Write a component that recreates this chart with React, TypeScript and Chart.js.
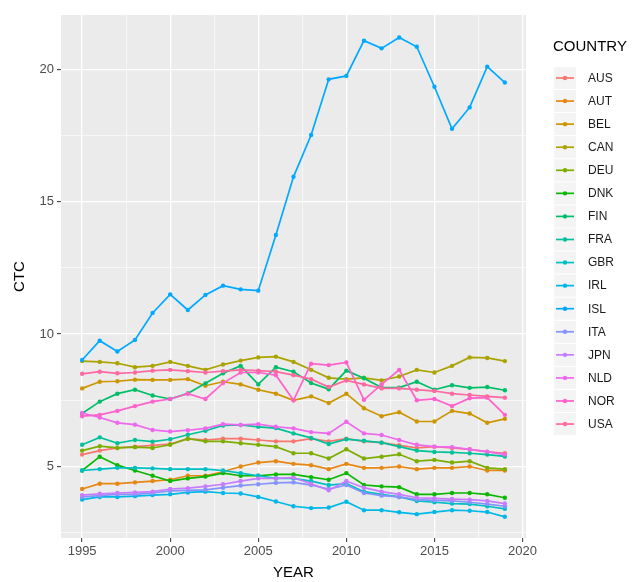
import React, { useEffect, useRef } from "react";
import { Chart, registerables } from "chart.js";

Chart.register(...registerables);

const YEARS = [1995, 1996, 1997, 1998, 1999, 2000, 2001, 2002, 2003, 2004, 2005, 2006, 2007, 2008, 2009, 2010, 2011, 2012, 2013, 2014, 2015, 2016, 2017, 2018, 2019];

const COUNTRIES = ["AUS", "AUT", "BEL", "CAN", "DEU", "DNK", "FIN", "FRA", "GBR", "IRL", "ISL", "ITA", "JPN", "NLD", "NOR", "USA"];

const COLORS = ["#F8766D", "#E68613", "#CD9600", "#ABA300", "#7CAE00", "#0CB702", "#00BE67", "#00C19A", "#00BFC4", "#00B8E7", "#00A9FF", "#8494FF", "#C77CFF", "#ED68ED", "#FF61CC", "#FF68A1"];

const AUS = [5.45, 5.6, 5.7, 5.75, 5.8, 5.85, 6.05, 6.0, 6.05, 6.05, 6.0, 5.95, 5.95, 6.05, 5.95, 6.05, 5.95, 5.9, 5.8, 5.7, 5.75, 5.7, 5.65, 5.55, 5.5];
const AUT = [4.15, 4.35, 4.35, 4.4, 4.45, 4.5, 4.65, 4.65, 4.8, 5.0, 5.15, 5.2, 5.1, 5.05, 4.9, 5.1, 4.95, 4.95, 5.0, 4.9, 4.95, 4.95, 5.0, 4.85, 4.85];
const BEL = [7.95, 8.2, 8.22, 8.28, 8.27, 8.27, 8.3, 8.05, 8.2, 8.1, 7.9, 7.75, 7.5, 7.65, 7.4, 7.75, 7.2, 6.9, 7.05, 6.7, 6.7, 7.1, 7.0, 6.65, 6.8];
const CAN = [8.98, 8.95, 8.9, 8.75, 8.8, 8.95, 8.8, 8.65, 8.85, 9.0, 9.12, 9.15, 8.95, 8.65, 8.35, 8.3, 8.35, 8.25, 8.4, 8.65, 8.55, 8.8, 9.12, 9.1, 8.98];
const DEU = [5.6, 5.77, 5.7, 5.73, 5.7, 5.82, 6.05, 5.95, 5.95, 5.88, 5.82, 5.75, 5.5, 5.5, 5.3, 5.65, 5.3, 5.37, 5.46, 5.2, 5.25, 5.15, 5.2, 4.95, 4.9];
const DNK = [4.85, 5.37, 5.05, 4.85, 4.65, 4.45, 4.55, 4.62, 4.75, 4.65, 4.65, 4.7, 4.7, 4.6, 4.5, 4.75, 4.3, 4.25, 4.22, 3.95, 3.95, 4.0, 4.0, 3.95, 3.82];
const FIN = [7.0, 7.45, 7.75, 7.9, 7.68, 7.55, 7.76, 8.14, 8.52, 8.8, 8.1, 8.75, 8.58, 8.15, 7.92, 8.62, 8.33, 7.98, 7.98, 8.2, 7.9, 8.07, 7.97, 8.0, 7.88];
const FRA = [5.82, 6.1, 5.88, 6.0, 5.94, 6.03, 6.2, 6.35, 6.55, 6.57, 6.5, 6.45, 6.25, 6.08, 5.85, 6.03, 5.97, 5.9, 5.75, 5.6, 5.55, 5.53, 5.5, 5.45, 5.38];
const GBR = [4.85, 4.9, 4.95, 4.95, 4.93, 4.9, 4.9, 4.9, 4.85, 4.75, 4.65, 4.55, 4.55, 4.45, 4.3, 4.35, 4.05, 3.95, 3.85, 3.7, 3.65, 3.6, 3.58, 3.5, 3.4];
const IRL = [3.75, 3.85, 3.85, 3.88, 3.92, 3.95, 4.02, 4.05, 4.0, 3.98, 3.85, 3.68, 3.5, 3.43, 3.45, 3.67, 3.35, 3.35, 3.27, 3.2, 3.28, 3.35, 3.33, 3.28, 3.1];
const ISL = [9.02, 9.75, 9.34, 9.78, 10.8, 11.5, 10.91, 11.48, 11.83, 11.69, 11.64, 13.74, 15.94, 17.52, 19.62, 19.75, 21.08, 20.79, 21.2, 20.85, 19.34, 17.75, 18.56, 20.1, 19.5];
const ITA = [3.85, 3.9, 3.95, 3.95, 4.0, 4.08, 4.1, 4.12, 4.2, 4.28, 4.33, 4.38, 4.4, 4.3, 4.15, 4.3, 4.0, 3.9, 3.85, 3.75, 3.72, 3.7, 3.65, 3.58, 3.5];
const JPN = [3.92, 3.97, 4.0, 4.02, 4.05, 4.15, 4.18, 4.25, 4.33, 4.45, 4.55, 4.55, 4.58, 4.35, 4.1, 4.45, 4.2, 4.05, 3.95, 3.82, 3.8, 3.77, 3.75, 3.7, 3.6];
const NLD = [7.02, 6.85, 6.65, 6.58, 6.38, 6.32, 6.37, 6.44, 6.6, 6.57, 6.6, 6.5, 6.44, 6.3, 6.25, 6.69, 6.25, 6.19, 6.0, 5.82, 5.75, 5.73, 5.65, 5.56, 5.45];
const NOR = [6.9, 6.95, 7.1, 7.28, 7.45, 7.55, 7.75, 7.55, 8.15, 8.55, 8.55, 8.45, 7.5, 8.88, 8.83, 8.93, 7.52, 8.1, 8.65, 7.5, 7.55, 7.28, 7.58, 7.6, 6.95];
const USA = [8.5, 8.58, 8.52, 8.55, 8.62, 8.65, 8.6, 8.55, 8.6, 8.65, 8.62, 8.58, 8.45, 8.3, 8.0, 8.25, 8.1, 7.95, 7.95, 7.9, 7.85, 7.75, 7.7, 7.65, 7.6];

const SERIES = [AUS, AUT, BEL, CAN, DEU, DNK, FIN, FRA, GBR, IRL, ISL, ITA, JPN, NLD, NOR, USA];

const X_MAJOR = [1995, 2000, 2005, 2010, 2015, 2020];
const X_MINOR = [1997.5, 2002.5, 2007.5, 2012.5, 2017.5];
const Y_MAJOR = [5, 10, 15, 20];
const Y_MINOR = [2.5, 7.5, 12.5, 17.5];

const FONT = "'Liberation Sans', Arial, Helvetica, sans-serif";

const isMajor = (v: number) => Math.abs(v % 5) < 1e-9;

const panelBg = {
  id: "panelBg",
  beforeDraw(chart: any) {
    const { ctx, chartArea } = chart;
    ctx.save();
    ctx.fillStyle = "#EBEBEB";
    ctx.fillRect(chartArea.left, chartArea.top, chartArea.right - chartArea.left, chartArea.bottom - chartArea.top);
    ctx.restore();
  },
};

const ggLegend = {
  id: "ggLegend",
  afterDraw(chart: any) {
    const { ctx } = chart;
    ctx.save();
    ctx.fillStyle = "#000000";
    ctx.font = `15px ${FONT}`;
    ctx.textAlign = "left";
    ctx.textBaseline = "middle";
    ctx.fillText("COUNTRY", 553, 47);
    const step = 23.07;
    COUNTRIES.forEach((name, i) => {
      const yc = 78 + step * i;
      ctx.fillStyle = "#F4F4F4";
      ctx.fillRect(554, yc - 11, 22, 22);
      ctx.strokeStyle = COLORS[i];
      ctx.lineWidth = 1.7;
      ctx.beginPath();
      ctx.moveTo(556, yc);
      ctx.lineTo(574, yc);
      ctx.stroke();
      ctx.fillStyle = COLORS[i];
      ctx.beginPath();
      ctx.arc(565, yc, 2.2, 0, Math.PI * 2);
      ctx.fill();
      ctx.fillStyle = "#1A1A1A";
      ctx.font = `12px ${FONT}`;
      ctx.fillText(name, 588, yc + 0.5);
    });
    ctx.restore();
  },
};

export default function App() {
  const ref = useRef<HTMLCanvasElement | null>(null);

  useEffect(() => {
    if (!ref.current) return;
    const datasets = COUNTRIES.map((name, i) => ({
      label: name,
      data: YEARS.map((yr, j) => ({ x: yr, y: SERIES[i][j] })),
      borderColor: COLORS[i],
      backgroundColor: COLORS[i],
      pointBackgroundColor: COLORS[i],
      pointBorderWidth: 0,
      pointRadius: 2.2,
      borderWidth: 1.7,
      tension: 0,
      fill: false,
      order: COUNTRIES.length - i,
    }));

    const gridWidth = (c: any) => (c.tick && isMajor(c.tick.value) ? 1.3 : 0.6);
    const tickColor = (c: any) => (c.tick && isMajor(c.tick.value) ? "#333333" : "rgba(0,0,0,0)");

    const chart = new Chart(ref.current, {
      type: "line",
      data: { datasets },
      plugins: [panelBg, ggLegend],
      options: {
        animation: false,
        responsive: false,
        maintainAspectRatio: false,
        layout: { padding: { top: 15, right: 115, left: 0, bottom: 0 } },
        plugins: {
          legend: { display: false },
          tooltip: { enabled: false },
        },
        scales: {
          x: {
            type: "linear",
            min: 1993.8,
            max: 2020.2,
            border: { display: false },
            grid: {
              color: "#FFFFFF",
              lineWidth: gridWidth,
              drawTicks: true,
              tickLength: 4,
              tickColor: tickColor,
              tickWidth: 1,
            },
            ticks: {
              autoSkip: false,
              maxRotation: 0,
              padding: 2,
              color: "#4D4D4D",
              font: { family: FONT, size: 13 },
              callback: (v: any) => (isMajor(Number(v)) ? String(v) : ""),
            },
            afterBuildTicks: (scale: any) => {
              scale.ticks = [...X_MAJOR, ...X_MINOR].sort((a, b) => a - b).map((v) => ({ value: v }));
            },
            afterFit: (scale: any) => {
              scale.height = 44;
            },
            title: {
              display: true,
              text: "YEAR",
              color: "#000000",
              font: { family: FONT, size: 15 },
              padding: { top: 0, bottom: 0 },
            },
          },
          y: {
            type: "linear",
            min: 2.3,
            max: 22.05,
            border: { display: false },
            grid: {
              color: "#FFFFFF",
              lineWidth: gridWidth,
              drawTicks: true,
              tickLength: 4,
              tickColor: tickColor,
              tickWidth: 1,
            },
            ticks: {
              autoSkip: false,
              padding: 3,
              color: "#4D4D4D",
              font: { family: FONT, size: 13 },
              callback: (v: any) => (isMajor(Number(v)) ? String(v) : ""),
            },
            afterBuildTicks: (scale: any) => {
              scale.ticks = [...Y_MINOR, ...Y_MAJOR].sort((a, b) => a - b).map((v) => ({ value: v }));
            },
            afterFit: (scale: any) => {
              scale.width = 61;
            },
            title: {
              display: true,
              text: "CTC",
              color: "#000000",
              font: { family: FONT, size: 15 },
              padding: { top: 11, bottom: 0 },
            },
          },
        },
      } as any,
    });
    return () => chart.destroy();
  }, []);

  return (
    <div style={{ position: "fixed", left: 0, top: 0, width: 641, height: 582, background: "#FFFFFF" }}>
      <canvas ref={ref} width={641} height={582} style={{ width: 641, height: 582, display: "block" }} />
    </div>
  );
}
